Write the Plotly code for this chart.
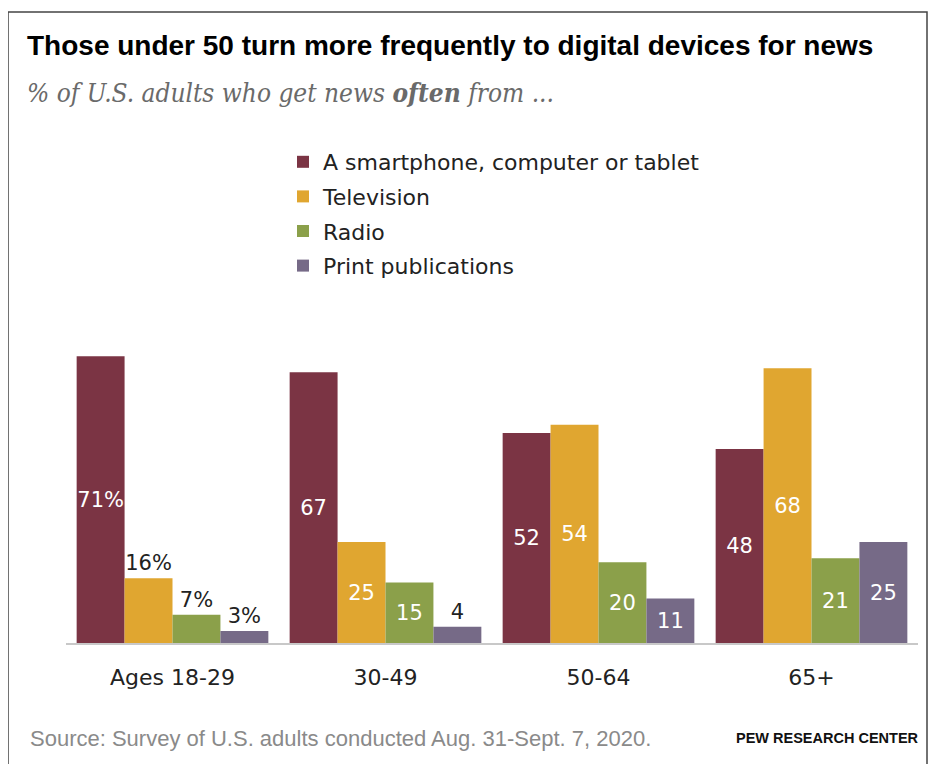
import plotly.graph_objects as go

categories = ["Ages 18-29", "30-49", "50-64", "65+"]
series_names = ["A smartphone, computer or tablet", "Television", "Radio", "Print publications"]
digital = [71, 67, 52, 48]
television = [16, 25, 54, 68]
radio = [7, 15, 20, 21]
print_pub = [3, 4, 11, 25]
label_digital = ["71%", "67", "52", "48"]
label_television = ["16%", "25", "54", "68"]
label_radio = ["7%", "15", "20", "21"]
label_print = ["3%", "4", "11", "25"]

colors = ["#7B3444", "#E0A630", "#8BA04A", "#766A87"]
values = [digital, television, radio, print_pub]
labels = [label_digital, label_television, label_radio, label_print]

# page has an 8px body margin; work in figure pixels
OFF = 8
W, H = 938 - OFF, 764 - OFF
L, R, T, B = 66 - OFF, 918 - OFF, 340 - OFF, 643 - OFF


def px(x):
    return (x - OFF - L) / (R - L)


def py(y):
    return (B - (y - OFF)) / (B - T)


fig = go.Figure()
for name, vals, labs, col in zip(series_names, values, labels, colors):
    outside = [(v < 5) or (lab.endswith("%") and v < 20) for v, lab in zip(vals, labs)]
    pos = ["outside" if o else "inside" for o in outside]
    tcol = ["#222222" if o else "white" for o in outside]
    fig.add_trace(go.Bar(
        x=categories, y=vals, name=name, marker_color=col,
        marker_line_width=0,
        text=labs, textposition=pos, insidetextanchor="middle", textangle=0,
        textfont=dict(color=tcol, size=21, family="DejaVu Sans"),
        constraintext="none", cliponaxis=False,
        legendgroup=name,
    ))

fig.update_layout(
    width=W, height=H,
    margin=dict(l=L, r=W - R, t=T, b=H - B),
    paper_bgcolor="white", plot_bgcolor="white",
    barmode="group", bargap=0.1, bargroupgap=0,
    font=dict(family="DejaVu Sans", color="#222222"),
    showlegend=True,
    legend=dict(
        x=px(283), y=py(141), xanchor="left", yanchor="top",
        font=dict(size=22, color="#222222", family="DejaVu Sans"),
        tracegroupgap=3, itemwidth=30,
        bgcolor="rgba(0,0,0,0)",
    ),
    xaxis=dict(
        range=[-0.5, 3.5], showline=True, linecolor="#c8c8c8", linewidth=1.5,
        showgrid=False, zeroline=False, ticks="", ticklabelstandoff=14,
        tickfont=dict(size=22, color="#222222", family="DejaVu Sans"),
    ),
    yaxis=dict(range=[0, 75], visible=False, showgrid=False, zeroline=False),
)

# Title, subtitle, footer
fig.add_annotation(
    text="<b>Those under 50 turn more frequently to digital devices for news</b>",
    xref="paper", yref="paper", x=px(25), y=py(45), xanchor="left", yanchor="middle",
    showarrow=False, font=dict(size=28, color="#000000", family="Liberation Sans"),
)
fig.add_annotation(
    text="<i>% of U.S. adults who get news <b>often</b> from ...</i>",
    xref="paper", yref="paper", x=px(25), y=py(93), xanchor="left", yanchor="middle",
    showarrow=False, font=dict(size=26, color="#6a6a6a", family="DejaVu Serif Condensed"),
)
fig.add_annotation(
    text="Source: Survey of U.S. adults conducted Aug. 31-Sept. 7, 2020.",
    xref="paper", yref="paper", x=px(28), y=py(738), xanchor="left", yanchor="middle",
    showarrow=False, font=dict(size=22, color="#8a8a8a", family="Liberation Sans"),
)
fig.add_annotation(
    text="<b>PEW RESEARCH CENTER</b>",
    xref="paper", yref="paper", x=px(921), y=py(738), xanchor="right", yanchor="middle",
    showarrow=False, font=dict(size=14.5, color="#111111", family="Liberation Sans"),
)

# Frame
fig.add_shape(
    type="rect", xref="paper", yref="paper",
    x0=px(8), x1=px(927), y0=py(790), y1=py(12),
    line=dict(color="#444444", width=1.5), fillcolor="rgba(0,0,0,0)",
)

fig.write_html("out.html")
